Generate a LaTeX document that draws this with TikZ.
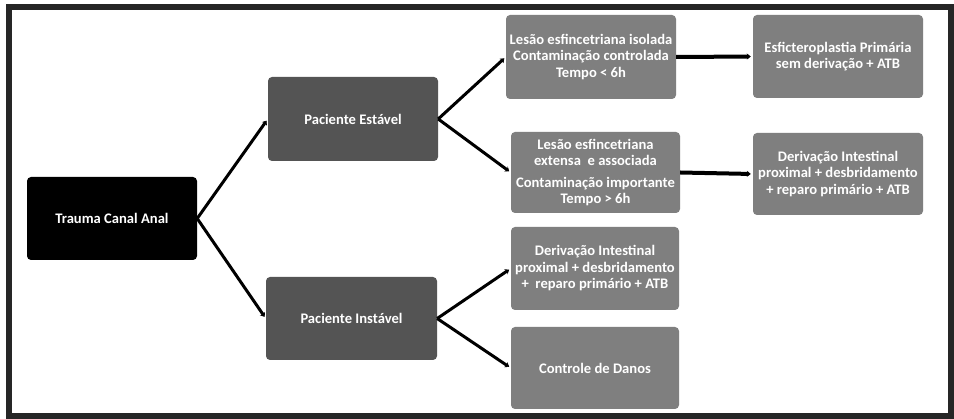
\documentclass[tikz,border=0pt]{standalone}
\usepackage{fontspec}
\setmainfont{Carlito}
\usetikzlibrary{arrows.meta}
\definecolor{frame}{HTML}{262626}
\definecolor{lvlone}{HTML}{000000}
\definecolor{lvltwo}{HTML}{545454}
\definecolor{lvlthree}{HTML}{7F7F7F}
\tikzset{
  box/.style={rounded corners=4pt, inner sep=0pt, align=center, text=white,
    font=\fontsize{14.6}{16.5}\selectfont\bfseries, minimum width=170pt, minimum height=83pt},
  conn/.style={line width=3pt, draw=black, -{Stealth[length=4pt,width=6pt]}, shorten >=2pt}
}
\begin{document}
\begin{tikzpicture}[x=1pt,y=-1pt]
\useasboundingbox (0,0) rectangle (954,419);
\fill[white] (0,0) rectangle (954,419);
\draw[frame, line width=6pt] (9,7) rectangle (951,416);

\node[box, fill=lvlone] (trauma) at (112,218.5) {Trauma Canal Anal};
\node[box, fill=lvltwo, minimum width=170pt, minimum height=84pt] (estavel) at (353,119) {Paciente Estável};
\node[box, fill=lvltwo, minimum width=171pt, minimum height=83pt] (instavel) at (351.5,318.5) {Paciente Instável};

\node[box, fill=lvlthree, minimum height=84pt] (isolada) at (591,57) {Lesão esfincetriana isolada\\Contaminação controlada\\Tempo < 6h};
\node[box, fill=lvlthree, minimum width=169pt, minimum height=81pt] (extensa) at (595.5,172.5) {Lesão esfincetriana\\extensa\ \ e associada\\[5pt]Contaminação importante\\Tempo > 6h};
\node[box, fill=lvlthree, minimum width=168pt, minimum height=83pt] (derivb) at (595,268.5) {Derivação Intestinal\\proximal + desbridamento\\+\ \ reparo primário + ATB};
\node[box, fill=lvlthree, minimum width=168pt, minimum height=82pt] (danos) at (595,368) {Controle de Danos};

\node[box, fill=lvlthree, minimum height=83pt] (esfic) at (838,56.5) {Esficteroplastia Primária\\sem derivação + ATB};
\node[box, fill=lvlthree, minimum height=82pt] (deriva) at (838,174) {Derivação Intestinal\\proximal + desbridamento\\+ reparo primário + ATB};

\draw[conn] (trauma.east) -- (estavel.west);
\draw[conn] (trauma.east) -- (instavel.west);
\draw[conn] (estavel.east) -- (isolada.west);
\draw[conn] (estavel.east) -- (extensa.west);
\draw[conn] (instavel.east) -- (derivb.west);
\draw[conn] (instavel.east) -- (danos.west);
\draw[conn, line width=4pt] (isolada.east) -- (esfic.west);
\draw[conn, line width=4pt] (extensa.east) -- (deriva.west);
\end{tikzpicture}
\end{document}
